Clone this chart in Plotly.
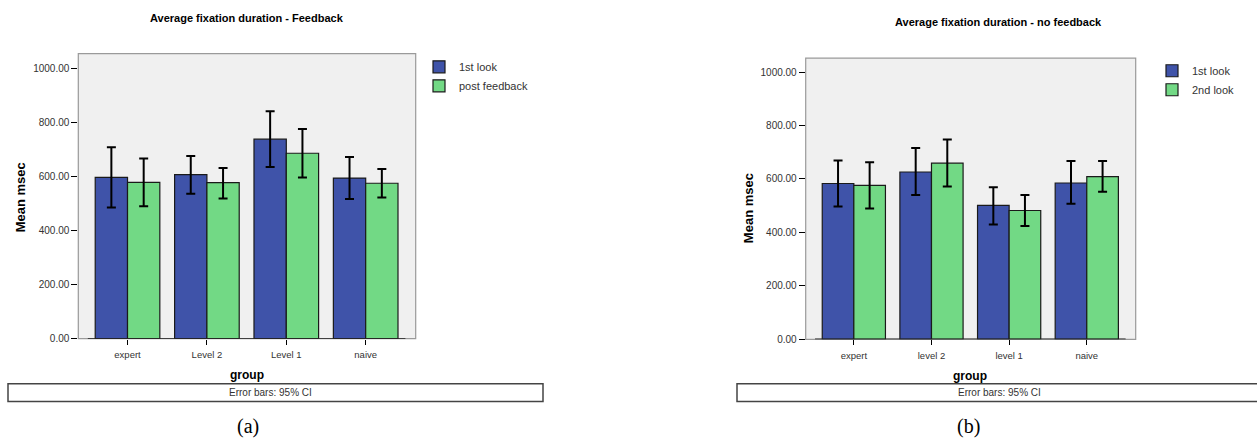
import plotly.graph_objects as go

W, H = 1257, 446

# ---- data -------------------------------------------------------------
groups_a = ["expert", "Level 2", "Level 1", "naive"]
first_a = [597, 607, 738, 594]
first_a_lo = [485, 536, 635, 517]
first_a_hi = [708, 676, 841, 672]
post_a = [578, 577, 686, 575]
post_a_lo = [490, 519, 596, 522]
post_a_hi = [667, 631, 776, 628]

groups_b = ["expert", "level 2", "level 1", "naive"]
first_b = [583, 626, 501, 585]
first_b_lo = [497, 540, 430, 507]
first_b_hi = [669, 716, 569, 667]
second_b = [576, 659, 482, 609]
second_b_lo = [490, 572, 424, 552]
second_b_hi = [663, 748, 540, 667]

y_ticks = [0, 200, 400, 600, 800, 1000]

BLUE = "#3f53a9"
GREEN = "#72d985"
PANEL = "#f0f0f0"
FONT = "Liberation Sans, Arial, sans-serif"


def px_x(p):
    return p / W


def px_y(p):
    return 1 - p / H


def err(mean, lo, hi):
    return dict(type="data", symmetric=False,
                array=[h - m for m, h in zip(mean, hi)],
                arrayminus=[m - l for m, l in zip(mean, lo)],
                color="black", thickness=2, width=4.5)


def bar(name, x, y, lo, hi, color, xa, ya, legend):
    return go.Bar(name=name, x=x, y=y, error_y=err(y, lo, hi),
                  marker=dict(color=color, line=dict(color="#1a1a1a", width=1.2)),
                  xaxis=xa, yaxis=ya, legend=legend)


fig = go.Figure()
fig.add_trace(bar("1st look", groups_a, first_a, first_a_lo, first_a_hi, BLUE, "x", "y", "legend"))
fig.add_trace(bar("post feedback", groups_a, post_a, post_a_lo, post_a_hi, GREEN, "x", "y", "legend"))
fig.add_trace(bar("1st look", groups_b, first_b, first_b_lo, first_b_hi, BLUE, "x2", "y2", "legend2"))
fig.add_trace(bar("2nd look", groups_b, second_b, second_b_lo, second_b_hi, GREEN, "x2", "y2", "legend2"))

xcommon = dict(type="category", range=[-0.62, 3.63], showgrid=False, zeroline=False,
               showline=False, ticks="outside", ticklen=5, tickcolor="black", tickwidth=1,
               ticklabelstandoff=2,
               tickfont=dict(family=FONT, size=9.5, color="#333"), fixedrange=True)
ycommon = dict(showgrid=False, zeroline=False, showline=False, ticks="outside",
               ticklen=6, tickcolor="black", tickwidth=1, tickvals=y_ticks,
               tickformat=".2f", tickfont=dict(family=FONT, size=10, color="#333"),
               fixedrange=True)

fig.update_layout(
    width=W, height=H,
    margin=dict(l=0, r=0, t=0, b=0),
    paper_bgcolor="white", plot_bgcolor=PANEL,
    barmode="group", bargap=0.186, bargroupgap=0,
    xaxis=dict(domain=[px_x(78.3), px_x(415.7)], anchor="y", **xcommon),
    yaxis=dict(domain=[px_y(343.3), px_y(54.3)], range=[0, 1054.7], anchor="x", **ycommon),
    xaxis2=dict(domain=[px_x(805.7), px_x(1135.7)], anchor="y2", **xcommon),
    yaxis2=dict(domain=[px_y(344), px_y(59)], range=[0, 1051.7], anchor="x2", **ycommon),
    legend=dict(x=px_x(419), y=px_y(53), xanchor="left", yanchor="top",
                font=dict(family=FONT, size=11, color="#333"), bgcolor="rgba(0,0,0,0)",
                itemclick=False, tracegroupgap=0),
    legend2=dict(x=px_x(1152), y=px_y(57), xanchor="left", yanchor="top",
                 font=dict(family=FONT, size=11, color="#333"), bgcolor="rgba(0,0,0,0)",
                 itemclick=False, tracegroupgap=0),
    showlegend=True,
)

shapes = []
for xr, yr in (("x", "y"), ("x2", "y2")):
    # panel frame
    shapes.append(dict(type="rect", xref=f"{xr} domain", yref=f"{yr} domain",
                       x0=0, x1=1, y0=0, y1=1, line=dict(color="#9a9a9a", width=1.2),
                       layer="below"))
    # category axis baseline
    shapes.append(dict(type="line", xref=xr, yref=yr, x0=-0.5, x1=3.5, y0=0, y1=0,
                       line=dict(color="#222", width=1.6), layer="above"))

# "Error bars" caption boxes
shapes.append(dict(type="rect", xref="paper", yref="paper",
                   x0=px_x(8), x1=px_x(543), y0=px_y(407), y1=px_y(389),
                   line=dict(color="#444", width=1.5)))
shapes.append(dict(type="rect", xref="paper", yref="paper",
                   x0=px_x(737), x1=px_x(1262), y0=px_y(407), y1=px_y(389),
                   line=dict(color="#444", width=1.5)))
fig.update_layout(shapes=shapes)


def note(text, x, y, size, bold=False, angle=0, family=FONT, color="black"):
    fig.add_annotation(text=f"<b>{text}</b>" if bold else text,
                       xref="paper", yref="paper", x=px_x(x), y=px_y(y),
                       xanchor="center", yanchor="middle", showarrow=False,
                       textangle=angle, font=dict(family=family, size=size, color=color))


note("Average fixation duration - Feedback", 247, 18, 11, bold=True)
note("Average fixation duration - no feedback", 998, 22, 11, bold=True)
note("Mean msec", 20, 200, 13, bold=True, angle=-90)
note("Mean msec", 748, 211, 13, bold=True, angle=-90)
note("group", 247, 380, 12, bold=True)
note("group", 970, 381, 12, bold=True)
note("Error bars: 95% CI", 270, 398, 10, color="#333")
note("Error bars: 95% CI", 999, 398, 10, color="#333")
note("(a)", 248, 432, 20, family="Liberation Serif, Times New Roman, serif")
note("(b)", 968, 432, 20, family="Liberation Serif, Times New Roman, serif")

fig.write_html("out.html")
